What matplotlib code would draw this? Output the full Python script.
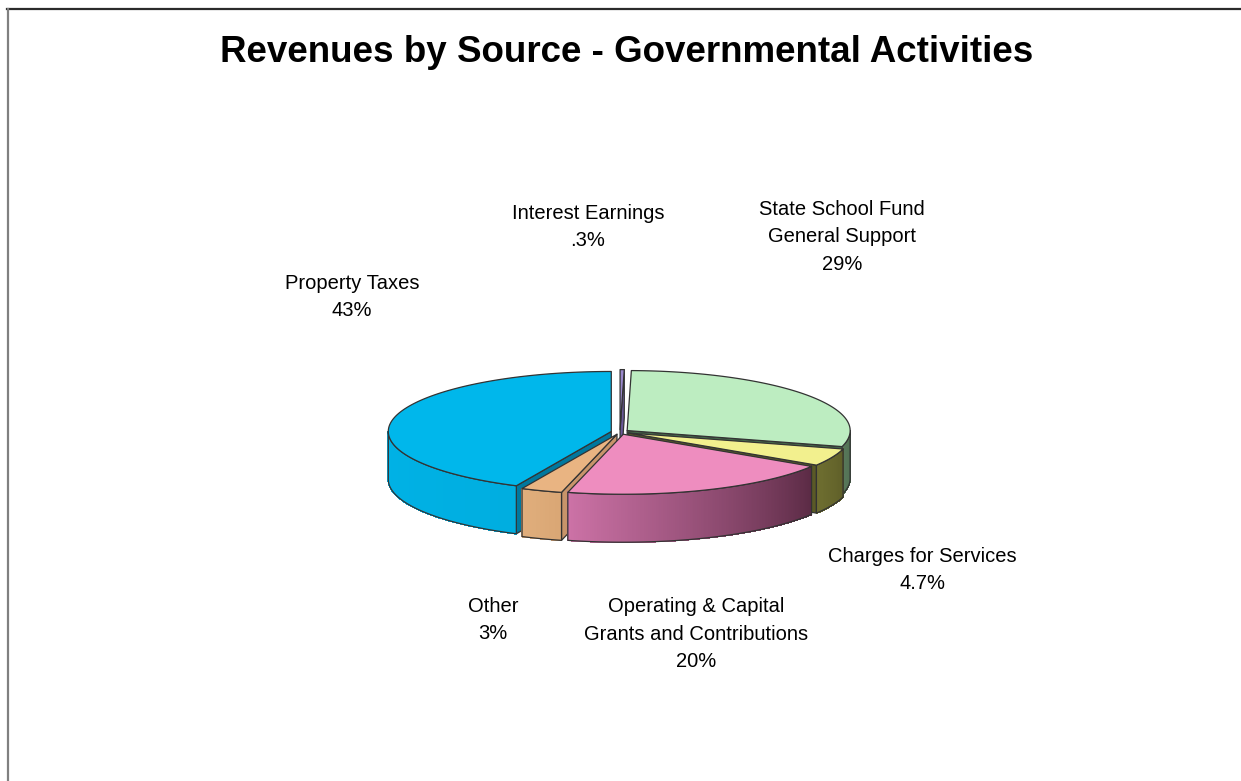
import numpy as np
import matplotlib
matplotlib.use("Agg")
import matplotlib.pyplot as plt
from matplotlib.patches import Polygon
from matplotlib.lines import Line2D
from matplotlib import font_manager

# ---- data -------------------------------------------------------------
categories = ["Interest Earnings",
              "State School Fund\nGeneral Support",
              "Charges for Services",
              "Operating & Capital\nGrants and Contributions",
              "Other",
              "Property Taxes"]
shares = [0.3, 29, 4.7, 20, 3, 43]          # percent of total
value_labels = [".3%", "29%", "4.7%", "20%", "3%", "43%"]

top_colors = ["#9A88CC", "#BDEDC1", "#F2F08E", "#EE8DBF", "#E9B482", "#00B7EB"]
wall_left = ["#7A68AA", "#58785A", "#6E6E30", "#CC72A6", "#E0AE7C", "#00B2E6"]
wall_right = ["#6A5898", "#4E6C50", "#5E5E28", "#5A2A44", "#D9A674", "#00AEE0"]
cut_colors = ["#6A5898", "#45684A", "#5A5A26", "#7A3A5C", "#C8946A", "#00789E"]

label_pos = [(588, 227), (842, 237), (922, 570), (696, 634), (493, 620), (352, 297)]

# ---- fonts ------------------------------------------------------------
available = {f.name for f in font_manager.fontManager.ttflist}
if "Liberation Sans Narrow" in available:
    label_family, label_size, label_ls = "Liberation Sans Narrow", 17, 1.27
else:
    label_family, label_size, label_ls = "Liberation Sans", 14.5, 1.55

# ---- figure -----------------------------------------------------------
W, H = 1241, 781
fig = plt.figure(figsize=(W / 100, H / 100), dpi=100)
ax = fig.add_axes([0, 0, 1, 1])
ax.set_xlim(0, W)
ax.set_ylim(H, 0)
ax.axis("off")

# frame lines
ax.add_line(Line2D([7, W], [9, 9], color="#2b2b2b", lw=1.6))
ax.add_line(Line2D([7.5, 7.5], [9, H], color="#808080", lw=1.6))

ax.text(627, 52, "Revenues by Source - Governmental Activities",
        ha="center", va="center", fontsize=26.5, fontweight="bold",
        family="Liberation Sans", color="black")

# ---- 3-D pie geometry ---------------------------------------------------
cx, cy = 620.0, 432.0
rx, ry = 223.0, 60.0
depth = 48.0
explode = 0.04
edge = "#333333"
elw = 0.9


def hex_rgb(h):
    h = h.lstrip("#")
    return np.array([int(h[i:i + 2], 16) for i in (0, 2, 4)]) / 255.0


def point(theta, r, off, z):
    t = np.radians(theta)
    return (cx + off[0] + r * rx * np.sin(t),
            cy + off[1] - r * ry * np.cos(t) + z * depth)


fractions = np.array(shares, dtype=float) / np.sum(shares)
ends = np.cumsum(fractions) * 360.0
starts = ends - fractions * 360.0

slices = []
for i in range(len(shares)):
    a, b = starts[i], ends[i]
    m = np.radians((a + b) / 2)
    off = (explode * rx * np.sin(m), -explode * ry * np.cos(m))
    # how far the slice sits from the front (180 deg); the front slice goes last
    if a <= 180.0 <= b:
        dist = 0.0
    else:
        dist = min(abs(a - 180.0), abs(b - 180.0))
    slices.append((i, a, b, off, dist))

order = sorted(slices, key=lambda s: -s[4])

for i, a, b, off, _ in order:
    # cut faces facing the viewer
    faces = []
    if np.sin(np.radians(a)) < -1e-6:
        faces.append(a)
    if np.sin(np.radians(b)) > 1e-6:
        faces.append(b)
    for ang in faces:
        quad = [point(0, 0, off, 0), point(ang, 1, off, 0),
                point(ang, 1, off, 1), point(0, 0, off, 1)]
        ax.add_patch(Polygon(quad, closed=True, facecolor=cut_colors[i],
                             edgecolor=edge, lw=elw, joinstyle="round"))

    # outer wall on the front half, shaded left to right
    lo, hi = max(a, 90.0), min(b, 270.0)
    if hi > lo:
        n = max(int((hi - lo) / 0.5), 2)
        th = np.linspace(lo, hi, n + 1)
        cl, cr = hex_rgb(wall_left[i]), hex_rgb(wall_right[i])
        for k in range(n):
            t = (hi - 0.5 * (th[k] + th[k + 1])) / (hi - lo)
            col = cl * (1 - t) + cr * t
            quad = [point(th[k], 1, off, 0), point(th[k + 1], 1, off, 0),
                    point(th[k + 1], 1, off, 1), point(th[k], 1, off, 1)]
            ax.add_patch(Polygon(quad, closed=True, facecolor=col,
                                 edgecolor=col, lw=0.6, antialiased=False))
        outline = [point(t_, 1, off, 0) for t_ in th] + \
                  [point(t_, 1, off, 1) for t_ in th[::-1]]
        ax.add_patch(Polygon(outline, closed=True, facecolor="none",
                             edgecolor=edge, lw=elw, joinstyle="round"))

    # top face
    th = np.linspace(a, b, max(int((b - a) / 0.5), 2) + 1)
    top = [point(0, 0, off, 0)] + [point(t_, 1, off, 0) for t_ in th]
    ax.add_patch(Polygon(top, closed=True, facecolor=top_colors[i],
                         edgecolor=edge, lw=elw, joinstyle="round"))

# ---- labels -----------------------------------------------------------
for name, val, (x, y) in zip(categories, value_labels, label_pos):
    ax.text(x, y, f"{name}\n{val}", ha="center", va="center",
            multialignment="center", fontsize=label_size,
            family=label_family, color="black", linespacing=label_ls)

fig.savefig("out.png", dpi=100)
